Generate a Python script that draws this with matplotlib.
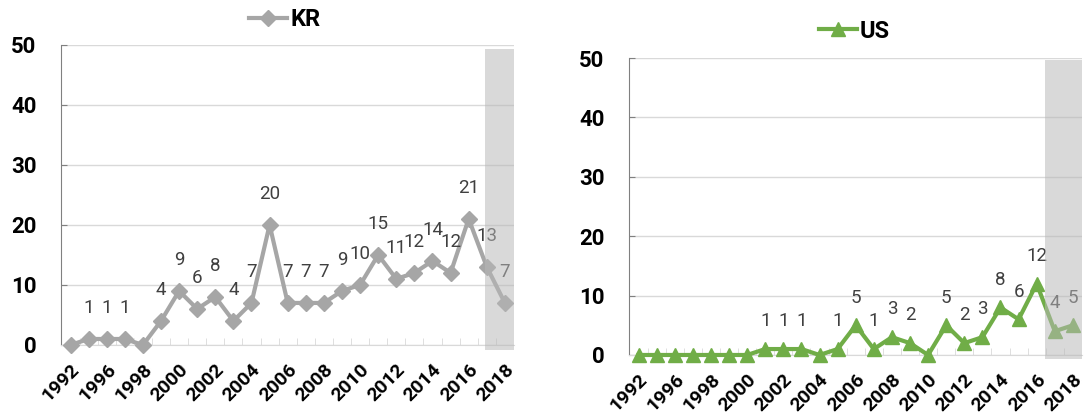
import matplotlib
matplotlib.use('Agg')
import matplotlib.pyplot as plt
from matplotlib.lines import Line2D
from matplotlib.patches import Rectangle

plt.rcParams['font.family'] = ['Roboto', 'DejaVu Sans']

# categories (every second one is labelled on the axis)
years = ['1992', '1994', '1996', '1997', '1998', '1999', '2000', '2001', '2002',
         '2003', '2004', '2005', '2006', '2007', '2008', '2009', '2010', '2011',
         '2012', '2013', '2014', '2015', '2016', '2017', '2018']
kr = [0, 1, 1, 1, 0, 4, 9, 6, 8, 4, 7, 20, 7, 7, 7, 9, 10, 15, 11, 12, 14, 12, 21, 13, 7]
us = [0, 0, 0, 0, 0, 0, 0, 1, 1, 1, 0, 1, 5, 1, 3, 2, 0, 5, 2, 3, 8, 6, 12, 4, 5]

fig = plt.figure(figsize=(10.84, 4.2), dpi=100)
ax1 = fig.add_axes([0.0567, 0.1786, 0.4174, 0.715])
ax2 = fig.add_axes([0.5807, 0.1548, 0.4174, 0.707])

grid_c = '#d9d9d9'
lab_c = '#404040'


def draw(ax, vals, color, marker, msize, shade_from, shade_y, label_off, name, leg_xy):
    x = list(range(len(vals)))
    ax.plot(x, vals, color=color, lw=3, marker=marker, ms=msize,
            clip_on=False, zorder=3)
    for xi, v in zip(x, vals):
        if v == 0:
            continue
        ax.annotate(str(v), (xi, v), xytext=(0, label_off), textcoords='offset points',
                    ha='center', va='center', fontsize=13.5, color=lab_c, zorder=4)
    # shaded forecast region, drawn on top
    ax.add_patch(Rectangle((shade_from, shade_y[0]), len(vals) - 0.5 - shade_from,
                           shade_y[1] - shade_y[0], facecolor='#b8b8b8', alpha=0.53,
                           lw=0, clip_on=False, zorder=5))
    ax.set_xlim(-0.5, len(vals) - 0.5)
    ax.set_ylim(0, 50)
    ax.set_yticks([0, 10, 20, 30, 40, 50])
    ax.yaxis.grid(True, color=grid_c, lw=1)
    ax.set_axisbelow(True)
    ax.set_xticks(x[::2])
    ax.set_xticklabels(years[::2], rotation=45, ha='right', va='top',
                       rotation_mode='anchor', fontsize=14, fontweight='bold')
    ax.set_xticks([i + 0.5 for i in x[:-1]], minor=True)
    ax.tick_params(axis='x', which='both', length=0, pad=11)
    ax.tick_params(axis='x', which='minor', direction='in', length=5, color=grid_c)
    ax.tick_params(axis='y', direction='in', length=4, color='#808080',
                   labelsize=16, pad=18)
    for t in ax.get_yticklabels():
        t.set_fontweight('bold')
    for s in ['top', 'right']:
        ax.spines[s].set_visible(False)
    ax.spines['left'].set_color('#808080')
    ax.spines['bottom'].set_color(grid_c)
    h = Line2D([], [], color=color, lw=3, marker=marker, ms=msize)
    ax.legend([h], [name], loc='center', bbox_to_anchor=leg_xy,
              bbox_transform=fig.transFigure, frameon=False, handlelength=1.6,
              handletextpad=0.15, prop={'size': 17, 'weight': 'bold'})


draw(ax1, kr, '#a6a6a6', 'D', 8, 22.9, (-0.85, 49.3), 22, 'KR', (284.5 / 1084, 1 - 20 / 420))
draw(ax2, us, '#70ad47', '^', 10, 22.45, (-0.6, 49.7), 20, 'US', (854.5 / 1084, 1 - 31 / 420))

fig.savefig('out.png', dpi=100)
